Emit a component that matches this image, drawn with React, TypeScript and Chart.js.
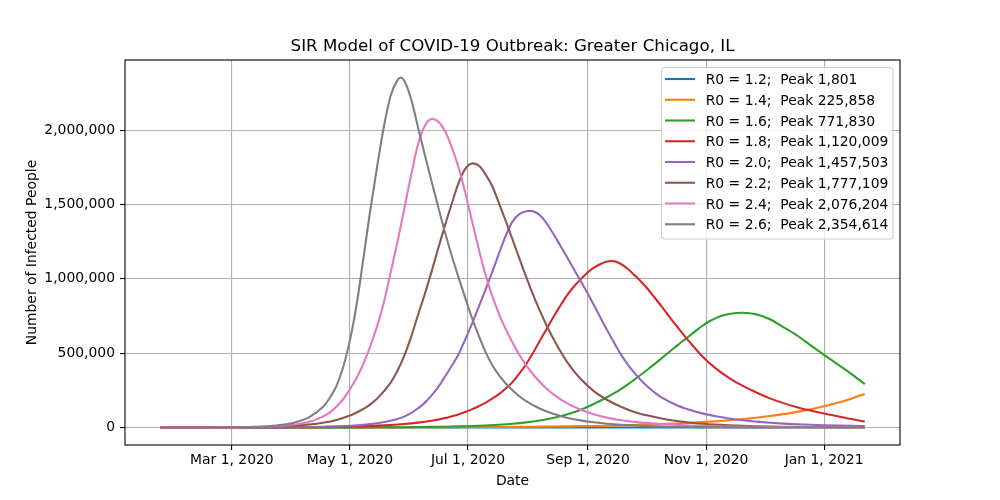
import React, { useEffect, useRef } from "react";
import { Chart, registerables } from "chart.js";

Chart.register(...registerables);

const FONT = '"DejaVu Sans", "Liberation Sans", sans-serif';

// Days since Jan 24, 2020 (weekly samples)
const weeklyDays = [
  0, 7, 14, 21, 28, 35, 42, 49, 56, 63, 70, 77, 84, 91, 98, 105, 112, 119, 126, 133,
  140, 147, 154, 161, 168, 175, 182, 189, 196, 203, 210, 217, 224, 231, 238, 245, 252,
  259, 266, 273, 280, 287, 294, 301, 308, 315, 322, 329, 336, 343, 350, 357, 364,
];

const r0Labels = ["1.2", "1.4", "1.6", "1.8", "2.0", "2.2", "2.4", "2.6"];
const peakCounts = [1801, 225858, 771830, 1120009, 1457503, 1777109, 2076204, 2354614];
const lineColors = ["#1f77b4", "#ff7f0e", "#2ca02c", "#d62728", "#9467bd", "#8c564b", "#e377c2", "#7f7f7f"];

// R0 = 1.2
const daysR12 = weeklyDays;
const infectedR12 = [
  30, 35, 40, 40, 45, 50, 50, 55, 60, 65, 70, 75, 85, 90, 95, 105, 115, 120, 130, 140,
  155, 165, 180, 195, 210, 225, 245, 265, 285, 305, 330, 360, 385, 415, 450, 485, 525,
  570, 615, 660, 715, 770, 835, 900, 975, 1050, 1135, 1225, 1325, 1430, 1545, 1670, 1801,
];

// R0 = 1.4
const daysR14 = weeklyDays;
const infectedR14 = [
  80, 90, 100, 120, 140, 170, 190, 220, 260, 310, 360, 420, 490, 570, 660, 770, 900, 1050,
  1200, 1400, 1700, 1900, 2300, 2600, 3100, 3600, 4200, 4900, 5700, 6600, 7700, 9000,
  10500, 12300, 14300, 16700, 19500, 22700, 26500, 31000, 36000, 42000, 49000, 57000,
  66000, 77000, 90000, 105000, 122000, 143000, 166000, 194000, 225858,
];

// R0 = 1.6
const daysR16 = [
  ...weeklyDays.slice(0, 37),
  255.5, 259, 262.5, 266, 269.5, 273, 276.5, 280, 283.5, 287, 290.5, 294, 297.5, 300.8,
  304.5, 308, 311.5, 315, 322, 329, 336, 343, 350, 357, 364,
];
const infectedR16 = [
  9, 12, 16, 22, 30, 40, 55, 75, 100, 140, 190, 260, 350, 480, 650, 880, 1200, 1600, 2200,
  3000, 4100, 5500, 7500, 10200, 14000, 19000, 25500, 34500, 47000, 64000, 87000, 118000,
  158000, 205000, 258000, 322000, 392000,
  428000, 465000, 503000, 540000, 577000, 612000, 648000, 683000, 713000, 736000, 753000,
  764000, 770000, 771830, 768800, 761000, 747000, 728000, 675000, 619000, 553000, 488000,
  425000, 361000, 292000,
];

// R0 = 1.8
const daysR18 = [
  ...weeklyDays.slice(0, 21),
  147, 150.5, 154, 157.5, 161, 164.5, 168, 171.5, 175, 178.5, 182, 185.5, 189, 192.5, 196,
  199.5, 203, 206.5, 210, 213.5, 217, 220.5, 224, 227.5, 231, 232.5, 234.5, 238, 241.5,
  245, 248.5, 252, 255.5, 259, 262.5, 266, 269.5, 273, 280, 287, 294, 301, 308, 315, 322,
  329, 336, 343, 350, 357, 364,
];
const infectedR18 = [
  70, 100, 140, 190, 260, 360, 500, 690, 950, 1300, 1800, 2500, 3400, 4700, 6500, 9000,
  12400, 17100, 23600, 32600, 45000,
  63000, 75000, 88000, 104000, 122000, 143000, 166000, 194000, 225000, 262000, 305000,
  362000, 425000, 500000, 580000, 660000, 740000, 815000, 885000, 945000, 995000, 1040000,
  1075000, 1100000, 1116000, 1120009, 1118000, 1100000, 1068000, 1025000, 980000, 930000,
  873000, 815000, 755000, 695000, 638000, 583000, 480000, 398000, 333000, 280000, 235000,
  196000, 164000, 137000, 114000, 94000, 76000, 57000, 40000,
];

// R0 = 2.0
const daysR20 = [
  ...weeklyDays.slice(0, 19),
  129.5, 133, 136.5, 140, 143.5, 147, 150.5, 154, 157.5, 161, 164.5, 168, 171.5, 175, 178.5,
  182, 185.5, 189, 190.9, 193, 196, 199.5, 203, 206.5, 210, 213.5, 217, 220.5, 224, 227.5,
  231, 234.5, 238, 241.5, 245, 248.5, 252, 255.5, 259, 266, 273, 280, 287, 294, 301, 308,
  315, 322, 329, 336, 343, 350, 357, 364,
];
const infectedR20 = [
  10, 16, 27, 45, 75, 125, 210, 350, 590, 1000, 1700, 2800, 4700, 7500, 11500, 17500,
  28000, 45000, 73000,
  97000, 128000, 164000, 213000, 270000, 340000, 412000, 490000, 590000, 695000, 810000,
  925000, 1045000, 1170000, 1290000, 1385000, 1435000, 1455000, 1457503, 1452700, 1429000,
  1376000, 1305000, 1228000, 1150000, 1070000, 990000, 910000, 825000, 738000, 652000,
  570000, 492000, 425000, 367000, 316000, 272000, 235000, 203000, 155000, 121000, 95000,
  76000, 61000, 49000, 39500, 32000, 26000, 21500, 18000, 15000, 12700, 10800, 9200,
];

// R0 = 2.2
const daysR22 = [
  ...weeklyDays.slice(0, 14),
  98, 101.5, 105, 108.5, 112, 115.5, 119, 122.5, 126, 129.5, 133, 136.5, 140, 143.5, 147,
  150.5, 154, 157.5, 161.6, 165, 168, 171.5, 175, 178.5, 182, 185.5, 189, 192.5, 196,
  199.5, 203, 206.5, 210, 213.5, 217, 224, 231, 238, 245, 252, 259, 266, 273, 280, 287,
  294, 301, 308, 315, 322, 329, 336, 343, 350, 357, 364,
];
const infectedR22 = [
  110, 180, 290, 460, 740, 1200, 1900, 3000, 4900, 7800, 12400, 20000, 32000, 51000,
  81000, 101000, 125000, 156000, 194000, 243000, 301000, 380000, 480000, 605000, 750000,
  890000, 1040000, 1200000, 1355000, 1500000, 1640000, 1738000, 1777109, 1758000, 1705000,
  1625000, 1510000, 1390000, 1265000, 1140000, 1015000, 898000, 790000, 690000, 600000,
  518000, 445000, 383000, 330000, 245000, 185000, 140000, 105000, 80000, 60000, 45000,
  34000, 25500, 19500, 15000, 11500, 8800, 6800, 5200, 4000, 3100, 2400, 1900, 1500, 1200,
];

// R0 = 2.4
const daysR24 = [
  ...weeklyDays.slice(0, 13),
  87.5, 91, 94.5, 98, 101.5, 105, 108.5, 112, 115.5, 119, 122.5, 126, 129.5, 133, 136.5,
  140.6, 144, 147, 150.5, 154, 157.5, 161, 164.5, 168, 171.5, 175, 178.5, 182, 185.5, 189,
  192.5, 196, 199.5, 203, 210, 217, 224, 231, 238, 245, 252, 259, 266, 273, 280, 287, 294,
  301, 308, 315, 322, 329, 336, 343, 350, 357, 364,
];
const infectedR24 = [
  45, 85, 160, 300, 560, 1000, 1900, 3500, 6400, 11500, 20000, 38000, 73000,
  100000, 140000, 190000, 257000, 335000, 430000, 545000, 680000, 840000, 1040000, 1245000,
  1465000, 1690000, 1895000, 2025000, 2076204, 2054000, 1998000, 1890000, 1755000, 1585000,
  1395000, 1205000, 1030000, 885000, 765000, 662000, 572000, 490000, 420000, 360000,
  308000, 262000, 224000, 164000, 121000, 89000, 66000, 49000, 38000, 29500, 23000, 18000,
  14000, 11000, 8500, 6600, 5200, 4000, 3100, 2400, 1900, 1500, 1200, 900, 700, 550,
];

// R0 = 2.6
const daysR26 = [
  ...weeklyDays.slice(0, 12),
  84, 87.5, 91, 94.5, 98, 101.5, 105, 108.5, 112, 115.5, 119, 122.5, 124.2, 126, 129.5,
  133, 136.5, 140, 143.5, 147, 150.5, 154, 157.5, 161, 164.5, 168, 171.5, 175, 178.5, 182,
  185.5, 189, 196, 203, 210, 217, 224, 231, 238, 245, 252, 259, 266, 273, 280, 287, 294,
  301, 308, 315, 322, 329, 336, 343, 350, 357, 364,
];
const infectedR26 = [
  32, 65, 135, 270, 550, 1100, 2200, 4500, 9000, 18000, 36000, 70000,
  138000, 197000, 278000, 405000, 586000, 830000, 1140000, 1460000, 1750000, 2020000,
  2230000, 2335000, 2354614, 2335000, 2215000, 2030000, 1845000, 1665000, 1490000, 1318000,
  1160000, 1015000, 875000, 740000, 620000, 510000, 420000, 352000, 296000, 250000, 210000,
  178000, 128000, 92000, 66000, 48000, 35000, 25000, 18000, 13000, 9300, 6700, 4800, 3400,
  2400, 1700, 1200, 850, 600, 430, 300, 220, 160, 110, 80, 60, 40,
];

const seriesDays = [daysR12, daysR14, daysR16, daysR18, daysR20, daysR22, daysR24, daysR26];
const seriesValues = [
  infectedR12, infectedR14, infectedR16, infectedR18,
  infectedR20, infectedR22, infectedR24, infectedR26,
];

const xTickDays = [37, 98, 159, 221, 282, 343];
const xTickLabels = ["Mar 1, 2020", "May 1, 2020", "Jul 1, 2020", "Sep 1, 2020", "Nov 1, 2020", "Jan 1, 2021"];
const yTickValues = [0, 500000, 1000000, 1500000, 2000000];
const yTickLabels = ["0", "500,000", "1,000,000", "1,500,000", "2,000,000"];

function roundRectPath(ctx: CanvasRenderingContext2D, x: number, y: number, w: number, h: number, r: number) {
  ctx.beginPath();
  ctx.moveTo(x + r, y);
  ctx.lineTo(x + w - r, y);
  ctx.arcTo(x + w, y, x + w, y + r, r);
  ctx.lineTo(x + w, y + h - r);
  ctx.arcTo(x + w, y + h, x + w - r, y + h, r);
  ctx.lineTo(x + r, y + h);
  ctx.arcTo(x, y + h, x, y + h - r, r);
  ctx.lineTo(x, y + r);
  ctx.arcTo(x, y, x + r, y, r);
  ctx.closePath();
}

const spinesPlugin = {
  id: "mplSpines",
  afterDatasetsDraw(chart: any) {
    const { ctx, chartArea } = chart;
    ctx.save();
    ctx.strokeStyle = "#000";
    ctx.lineWidth = 1.1;
    ctx.strokeRect(chartArea.left, chartArea.top, chartArea.right - chartArea.left, chartArea.bottom - chartArea.top);
    ctx.restore();
  },
};

const legendPlugin = {
  id: "mplLegend",
  afterDraw(chart: any) {
    const { ctx } = chart;
    ctx.save();
    const x0 = 661.5;
    const y0 = 67.5;
    const w = 231.5;
    const h = 171.5;
    roundRectPath(ctx, x0, y0, w, h, 3);
    ctx.fillStyle = "rgba(255,255,255,0.8)";
    ctx.fill();
    ctx.lineWidth = 1.1;
    ctx.strokeStyle = "#cccccc";
    ctx.stroke();
    chart.data.datasets.forEach((ds: any, i: number) => {
      const y = 79 + i * 20.75;
      ctx.beginPath();
      ctx.moveTo(665, y);
      ctx.lineTo(695, y);
      ctx.strokeStyle = ds.borderColor;
      ctx.lineWidth = 2.08;
      ctx.lineCap = "butt";
      ctx.stroke();
      ctx.fillStyle = "#000";
      ctx.font = `13.9px ${FONT}`;
      ctx.textAlign = "left";
      ctx.textBaseline = "alphabetic";
      ctx.fillText(ds.label, 705.7, y + 5.1);
    });
    ctx.restore();
  },
};

export default function App() {
  const canvasRef = useRef<HTMLCanvasElement | null>(null);

  useEffect(() => {
    const canvas = canvasRef.current;
    if (!canvas) return;

    const datasets = seriesValues.map((vals, i) => ({
      label: `R0 = ${r0Labels[i]};  Peak ${peakCounts[i].toLocaleString("en-US")}`,
      data: seriesDays[i].map((d, j) => ({ x: d, y: vals[j] })),
      borderColor: lineColors[i],
      backgroundColor: lineColors[i],
      borderWidth: 2.08,
      pointRadius: 0,
      pointHoverRadius: 0,
      cubicInterpolationMode: "monotone" as const,
      fill: false,
      borderJoinStyle: "round" as const,
      order: seriesValues.length - 1 - i,
    }));

    const tickFont = { family: FONT, size: 13.9 };

    const chart = new Chart(canvas, {
      type: "line",
      data: { datasets },
      options: {
        animation: false,
        responsive: false,
        devicePixelRatio: 1,
        layout: { padding: { left: 0, right: 100, top: 0, bottom: 0 } },
        plugins: {
          legend: { display: false },
          tooltip: { enabled: false },
          title: {
            display: true,
            text: "SIR Model of COVID-19 Outbreak: Greater Chicago, IL",
            color: "#000",
            font: { family: FONT, size: 16.67, weight: "normal", lineHeight: 1.2 },
            padding: { top: 37, bottom: 3 },
            fullSize: false,
          },
        },
        scales: {
          x: {
            type: "linear",
            min: -18.2,
            max: 382.2,
            afterFit: (s: any) => {
              s.height = 55;
            },
            afterBuildTicks: (s: any) => {
              s.ticks = xTickDays.map((v) => ({ value: v }));
            },
            ticks: {
              callback: (_v: any, i: number) => xTickLabels[i],
              autoSkip: false,
              maxRotation: 0,
              minRotation: 0,
              color: "#000",
              font: tickFont,
              padding: 2.5,
            },
            grid: {
              color: "#b0b0b0",
              lineWidth: 1.1,
              tickColor: "#000",
              tickWidth: 1.1,
              tickLength: 5,
              drawTicks: true,
            },
            border: { display: false },
            title: {
              display: true,
              text: "Date",
              color: "#000",
              font: { family: FONT, size: 13.9, lineHeight: 1.2 },
              padding: { top: 0, bottom: 10.5 },
            },
          },
          y: {
            type: "linear",
            min: -117731,
            max: 2472345,
            afterFit: (s: any) => {
              s.width = 125;
            },
            afterBuildTicks: (s: any) => {
              s.ticks = yTickValues.map((v) => ({ value: v }));
            },
            ticks: {
              callback: (_v: any, i: number) => yTickLabels[i],
              autoSkip: false,
              color: "#000",
              font: tickFont,
              padding: 5,
            },
            grid: {
              color: "#b0b0b0",
              lineWidth: 1.1,
              tickColor: "#000",
              tickWidth: 1.1,
              tickLength: 5,
              drawTicks: true,
            },
            border: { display: false },
            title: {
              display: true,
              text: "Number of Infected People",
              color: "#000",
              font: { family: FONT, size: 13.9, lineHeight: 1.2 },
              padding: { top: 24, bottom: 0 },
            },
          },
        },
      },
      plugins: [spinesPlugin, legendPlugin],
    } as any);

    return () => {
      chart.destroy();
    };
  }, []);

  return (
    <div style={{ position: "absolute", left: 0, top: 0, width: 1000, height: 500, background: "#fff" }}>
      <canvas ref={canvasRef} width={1000} height={500} style={{ display: "block", width: 1000, height: 500 }} />
    </div>
  );
}
